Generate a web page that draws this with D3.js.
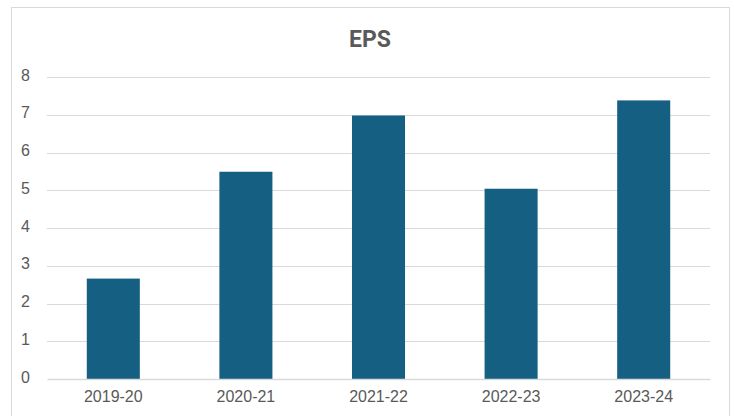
<!DOCTYPE html>
<html>
<head>
<meta charset="utf-8">
<script src="https://cdn.jsdelivr.net/npm/d3@7"></script>
<style>
  body { margin: 0; background: #fff; }
  svg { display: block; }
</style>
</head>
<body>
<script>
const width = 734, height = 416;
const margin = { top: 77, right: 24, bottom: 37, left: 47 };

// values
const years = ["2019-20", "2020-21", "2021-22", "2022-23", "2023-24"];
const eps = [2.66, 5.49, 6.98, 5.04, 7.38];
const yTicks = [0, 1, 2, 3, 4, 5, 6, 7, 8];

const svg = d3.select("body")
    .append("svg")
    .attr("width", width)
    .attr("height", height)

// chart frame
svg.append("rect")
    .attr("x", 11.5)
    .attr("y", 7.5)
    .attr("width", 718)
    .attr("height", 420)
    .attr("fill", "#fff")
    .attr("stroke", "#d9d9d9")
    .attr("stroke-width", 1)

svg.append("text")
    .attr("x", 370)
    .attr("y", 47)
    .attr("text-anchor", "middle")
    .style("font-family", "Roboto, 'Liberation Sans', sans-serif")
    .style("font-weight", "bold")
    .style("font-size", "23px")
    .style("fill", "#595959")
    .text("EPS");

const xScale = d3.scaleBand()
    .domain(years)
    .range([margin.left, width - margin.right])
    .paddingInner(0.6)
    .paddingOuter(0.3)
const yScale = d3.scaleLinear()
    .domain([0, 8])
    .range([height - margin.bottom, margin.top])

// gridlines
svg.append("g")
    .attr("class", "grid")
    .selectAll("line")
    .data(yTicks.filter(d => d > 0))
    .enter()
    .append("line")
    .attr("x1", margin.left)
    .attr("x2", width - margin.right)
    .attr("y1", d => Math.round(yScale(d)) + 0.5)
    .attr("y2", d => Math.round(yScale(d)) + 0.5)
    .attr("stroke", "#d9d9d9")
    .attr("stroke-width", 1)

svg.selectAll(".bar")
    .data(eps)
    .enter()
    .append("rect")
    .attr("class", "bar")
    .attr("x", (d, i) => xScale(years[i]))
    .attr("y", d => yScale(d))
    .attr("width", xScale.bandwidth())
    .attr("height", d => yScale(0) - yScale(d))
    .attr("fill", "#156082")

const yAxis = d3.axisLeft(yScale).tickValues(yTicks).tickSize(0).tickPadding(17);
const xAxis = d3.axisBottom(xScale).tickSize(0).tickPadding(12);

const gy = svg.append("g")
    .attr("id", "y-axis")
    .attr("transform", "translate(" + margin.left + ",-2)")
    .call(yAxis)
gy.select(".domain").remove();

const gx = svg.append("g")
    .attr("id", "x-axis")
    .attr("transform", "translate(0," + yScale(0) + ")")
    .call(xAxis)
gx.select(".domain")
    .attr("stroke", "#d9d9d9")
    .attr("stroke-width", 1.5)

svg.selectAll(".tick text")
    .style("font-family", "'Liberation Sans', Arial, sans-serif")
    .style("font-size", "16px")
    .style("fill", "#595959")
</script>
</body>
</html>
